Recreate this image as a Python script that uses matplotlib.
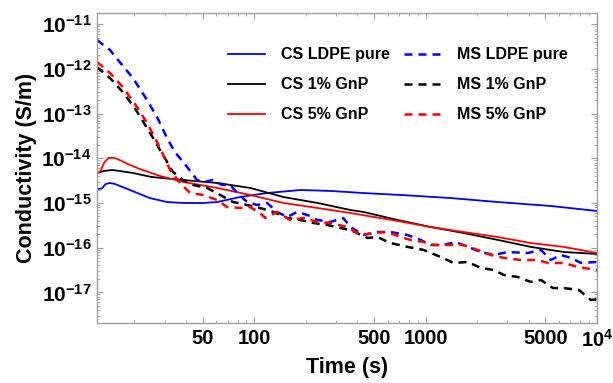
import matplotlib
matplotlib.use('Agg')
import matplotlib.pyplot as plt
from matplotlib.ticker import FixedLocator, FixedFormatter, NullFormatter

plt.rcParams['font.family'] = ['Liberation Sans', 'DejaVu Sans']
plt.rcParams['font.weight'] = 'bold'
plt.rcParams['mathtext.fontset'] = 'custom'
plt.rcParams['mathtext.rm'] = 'Liberation Sans:bold'
plt.rcParams['mathtext.it'] = 'Liberation Sans:bold'
plt.rcParams['mathtext.bf'] = 'Liberation Sans:bold'

# --- data (time in s, conductivity in S/m) ---
t_cs_pure = [12.1, 12.9, 13.6, 14.4, 15.4, 17.6, 21.5, 24.6, 31.0, 38.5, 50.3, 60.8,
             82.8, 119, 186, 278, 434, 714, 1400, 2640, 5380, 10000]
s_cs_pure = [2.06e-15, 2.1e-15, 2.66e-15, 2.8e-15, 2.66e-15, 2.17e-15, 1.59e-15, 1.29e-15,
             1.05e-15, 1.0e-15, 1.0e-15, 1.05e-15, 1.36e-15, 1.67e-15, 1.95e-15, 1.86e-15,
             1.67e-15, 1.51e-15, 1.29e-15, 1.05e-15, 8.57e-16, 6.62e-16]

t_cs_1 = [12.1, 13.3, 14.8, 16.4, 19.6, 25.1, 38.5, 60.8, 94.8, 148, 234, 364,
          434, 686, 1070, 1667, 2640, 4110, 6410, 10000]
s_cs_1 = [4.69e-15, 5.2e-15, 5.47e-15, 5.2e-15, 4.69e-15, 3.82e-15, 3.27e-15, 2.8e-15,
          2.17e-15, 1.36e-15, 1.0e-15, 6.97e-16, 6.3e-16, 4.17e-16, 2.9e-16, 2.13e-16,
          1.49e-16, 1.04e-16, 8.0e-17, 7.23e-17]

t_cs_5 = [12.1, 12.6, 13.3, 14.1, 15.2, 16.4, 18.3, 21.5, 28.2, 38.5, 60.8, 94.8,
          148, 234, 364, 686, 1070, 1667, 2640, 4110, 6410, 10000]
s_cs_5 = [4.69e-15, 4.94e-15, 7.85e-15, 1.02e-14, 1.02e-14, 9.16e-15, 7.45e-15, 5.77e-15,
          4.02e-15, 2.95e-15, 2.17e-15, 1.51e-15, 1.0e-15, 7.73e-16, 5.97e-16, 3.96e-16,
          2.9e-16, 2.24e-16, 1.73e-16, 1.27e-16, 1.04e-16, 7.6e-17]

t_ms_pure = [12.1, 14.4, 16.4, 19.6, 23.1, 27.1, 31.0, 34.5, 40.6, 46.4, 51.7, 56.8,
             65.0, 72.4, 79.6, 91.0, 104, 119, 136, 156, 178, 204, 234, 278, 331, 364,
             434, 524, 624, 785, 935, 1070, 1274, 1497, 1762, 2098, 2500, 3020, 3950,
             4710, 5380, 6150, 7050, 8060, 10000]
s_ms_pure = [4.44e-12, 2.65e-12, 1.43e-12, 6.25e-13, 2.35e-13, 8.4e-14, 2.84e-14, 1.38e-14,
             6.38e-15, 3.27e-15, 2.95e-15, 3.27e-15, 2.53e-15, 2.53e-15, 1.67e-15, 1.05e-15,
             9.0e-16, 1.0e-15, 6.3e-16, 4.86e-16, 6.3e-16, 5.4e-16, 4.17e-16, 3.76e-16,
             4.61e-16, 2.9e-16, 1.92e-16, 2.24e-16, 2.24e-16, 1.92e-16, 1.49e-16, 1.15e-16,
             1.15e-16, 1.34e-16, 1.04e-16, 8.0e-17, 6.87e-17, 8.0e-17, 7.6e-17, 8.9e-17,
             5.3e-17, 6.87e-17, 5.9e-17, 4.55e-17, 4.79e-17]

t_ms_1 = [12.1, 14.4, 17.1, 20.1, 23.1, 25.7, 28.2, 33.6, 38.5, 44.0, 53.1, 63.3,
          75.4, 91.0, 108, 129, 156, 186, 221, 267, 318, 364, 458, 524, 624, 785,
          973, 1224, 1458, 1762, 2098, 2500, 2860, 3450, 4110, 4710, 5530, 6410,
          7850, 9220, 10000]
s_ms_1 = [1.1e-12, 6.25e-13, 3.04e-13, 1.33e-13, 5.56e-14, 2.84e-14, 1.53e-14, 4.94e-15,
          3.27e-15, 2.53e-15, 2.17e-15, 1.51e-15, 1.05e-15, 9.0e-16, 7.73e-16, 6.3e-16,
          4.61e-16, 4.17e-16, 3.57e-16, 3.22e-16, 2.76e-16, 2.49e-16, 1.65e-16, 1.73e-16,
          1.27e-16, 1.04e-16, 8.9e-17, 6.2e-17, 4.55e-17, 4.79e-17, 3.52e-17, 3.17e-17,
          2.45e-17, 2.21e-17, 1.71e-17, 1.89e-17, 1.25e-17, 1.25e-17, 1.13e-17, 6.76e-18,
          7.0e-18]

t_ms_5 = [12.1, 14.4, 17.1, 20.7, 23.7, 26.4, 28.6, 32.3, 36.9, 42.3, 50.3, 60.8,
          69.5, 82.8, 94.8, 108, 116, 136, 162, 194, 234, 278, 350, 417, 497, 600,
          714, 817, 973, 1110, 1400, 1667, 2015, 2401, 2860, 3595, 4520, 5170, 6410,
          7750, 10000]
s_ms_5 = [1.43e-12, 8.1e-13, 3.94e-13, 1.41e-13, 6.17e-14, 2.84e-14, 1.53e-14, 5.47e-15,
          2.8e-15, 1.67e-15, 1.51e-15, 1.17e-15, 8.1e-16, 7.73e-16, 8.1e-16, 5.97e-16,
          4.61e-16, 6.3e-16, 4.17e-16, 4.61e-16, 3.76e-16, 3.57e-16, 2.9e-16, 1.92e-16,
          2.13e-16, 2.24e-16, 1.73e-16, 1.49e-16, 1.34e-16, 1.15e-16, 1.15e-16, 1.15e-16,
          8.9e-17, 6.87e-17, 5.9e-17, 5.3e-17, 5.3e-17, 4.55e-17, 4.55e-17, 3.7e-17,
          3.17e-17]

x_major = [50, 100, 500, 1000, 5000, 10000]
x_labels = ['50', '100', '500', '1000', '5000', r'$10^{4}$']
x_minor = [20, 30, 40, 60, 70, 80, 90, 200, 300, 400, 600, 700, 800, 900,
           2000, 3000, 4000, 6000, 7000, 8000, 9000]
y_major = [1e-17, 1e-16, 1e-15, 1e-14, 1e-13, 1e-12, 1e-11]
y_labels = [r'$10^{-17}$', r'$10^{-16}$', r'$10^{-15}$', r'$10^{-14}$',
            r'$10^{-13}$', r'$10^{-12}$', r'$10^{-11}$']

# --- figure ---
fig = plt.figure(figsize=(6.13, 3.83), dpi=100)
ax = fig.add_axes([97 / 613, 60 / 383, 500 / 613, 310 / 383])

solid_lw = 1.3
dash_lw = 1.8
dash = (3.2, 2.4)

ax.plot(t_cs_pure, s_cs_pure, color='#0000ff', lw=solid_lw, label='CS LDPE pure')
ax.plot(t_cs_1, s_cs_1, color='black', lw=solid_lw, label='CS 1% GnP')
ax.plot(t_cs_5, s_cs_5, color='#ff0000', lw=solid_lw, label='CS 5% GnP')
ax.plot(t_ms_pure, s_ms_pure, color='#0000ff', lw=dash_lw, dashes=dash, label='MS LDPE pure')
ax.plot(t_ms_1, s_ms_1, color='black', lw=dash_lw, dashes=dash, label='MS 1% GnP')
ax.plot(t_ms_5, s_ms_5, color='#ff0000', lw=dash_lw, dashes=dash, label='MS 5% GnP')

ax.set_xscale('log')
ax.set_yscale('log')
ax.set_xlim(12.1, 10000)
ax.set_ylim(10 ** -17.685, 10 ** -10.75)

ax.xaxis.set_major_locator(FixedLocator(x_major))
ax.xaxis.set_major_formatter(FixedFormatter(x_labels))
ax.xaxis.set_minor_locator(FixedLocator(x_minor))
ax.xaxis.set_minor_formatter(NullFormatter())
ax.yaxis.set_major_locator(FixedLocator(y_major))
ax.yaxis.set_major_formatter(FixedFormatter(y_labels))
ax.yaxis.set_minor_locator(FixedLocator([m * 10.0 ** e for e in range(-18, -10) for m in range(2, 10)]))
ax.yaxis.set_minor_formatter(NullFormatter())

for sp in ax.spines.values():
    sp.set_color('#a0a0a0')
    sp.set_linewidth(1.0)
ax.tick_params(which='both', direction='in', top=True, right=True, color='#a0a0a0', pad=4)
ax.tick_params(axis='x', labelsize=14.5)
ax.tick_params(axis='y', labelsize=15)
ax.tick_params(which='major', length=4, width=0.8)
ax.tick_params(which='minor', length=2.2, width=0.6)
for lab in ax.get_xticklabels() + ax.get_yticklabels():
    lab.set_fontweight('bold')

ax.set_xlabel('Time (s)', fontsize=15.5, fontweight='bold', labelpad=5)
ax.set_ylabel('Conductivity (S/m)', fontsize=15.5, fontweight='bold', labelpad=3)

ax.legend(loc='upper left', bbox_to_anchor=(0.262, 0.89), ncol=2, frameon=False,
          fontsize=11.5, handlelength=2.3, handletextpad=1.0, columnspacing=0.9,
          labelspacing=0.95, borderpad=0, borderaxespad=0)

fig.savefig('out.png', dpi=100)
